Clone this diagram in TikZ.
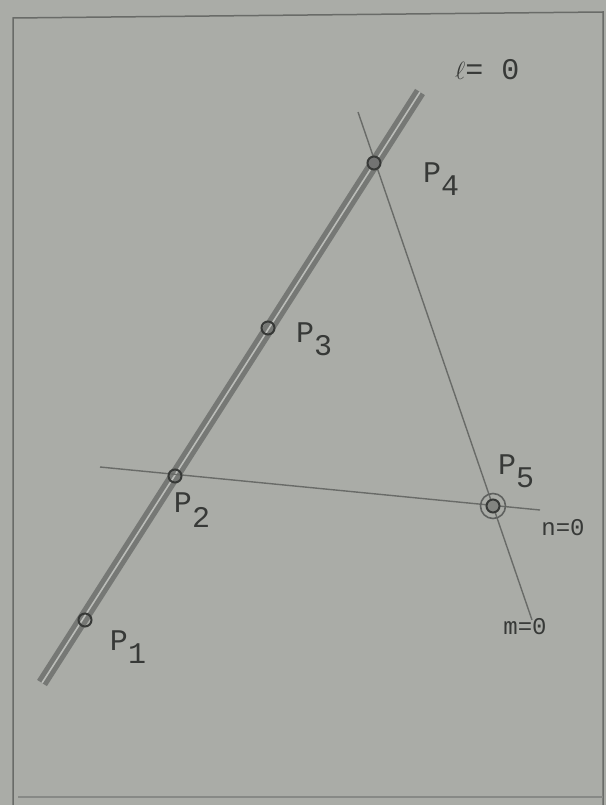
\documentclass[tikz,border=0pt]{standalone}
\usepackage{fontspec}
\setmonofont{Liberation Mono}
\definecolor{paper}{RGB}{170,172,167}
\definecolor{ink}{RGB}{55,57,55}
\definecolor{pencil}{RGB}{105,107,104}
\begin{document}
\begin{tikzpicture}[x=1pt,y=-1pt,
  pt/.style={circle,draw=ink,line width=2pt,inner sep=0pt,minimum size=13pt},
  lab/.style={font=\fontsize{30}{34}\selectfont\ttfamily,text=ink,inner sep=0pt},
  thin line/.style={draw=pencil,line width=1.4pt}]
\fill[paper] (0,0) rectangle (606,805);
\useasboundingbox (0,0) rectangle (606,805);
\draw[pencil,line width=1.5pt] (13,805) -- (13,18) -- (603,12) -- (603,805);
\draw[pencil!80,line width=1.2pt] (18,797) -- (603,797);
% line l=0 (double)
\coordinate (la) at (42,683);
\coordinate (lb) at (420,92);
\draw[draw=pencil!80!paper,line width=5pt,double=paper!80!white,double distance=1.6pt] (la) -- (lb);
% line m=0
\coordinate (ma) at (358,112);
\coordinate (mb) at (532,620);
\draw[thin line] (ma) -- (mb);
% line n=0
\coordinate (na) at (100,467);
\coordinate (nb) at (540,510);
\draw[thin line] (na) -- (nb);
% points
\node[pt] (P1) at (85,620) {};
\node[pt] (P2) at (175,476) {};
\node[pt] (P3) at (268,328) {};
\node[pt,fill=ink!70] (P4) at (374,163) {};
\node[pt,fill=pencil!60!paper] (P5) at (493,506) {};
\node[circle,draw=ink!80,line width=1.6pt,inner sep=0pt,minimum size=25pt] (P5o) at (P5) {};
% labels
\node[lab] (L1) at (128,647) {P\raisebox{-0.8ex}{1}};
\node[lab] (L2) at (192,510) {\raisebox{0.6ex}{P}\raisebox{-0.3ex}{2}};
\node[lab] (L3) at (314,339) {P\raisebox{-0.8ex}{3}};
\node[lab] (L4) at (441,179) {P\raisebox{-0.8ex}{4}};
\node[lab] (L5) at (516,471) {P\raisebox{-0.8ex}{5}};
\node[lab,anchor=west] (Ll) at (455,70) {{\fontsize{36}{40}\selectfont$\ell$}= 0};
\node[lab,font=\fontsize{24}{28}\selectfont\ttfamily] (Ln) at (563,528) {n=0};
\node[lab,font=\fontsize{24}{28}\selectfont\ttfamily] (Lm) at (525,627) {m=0};
\end{tikzpicture}
\end{document}
